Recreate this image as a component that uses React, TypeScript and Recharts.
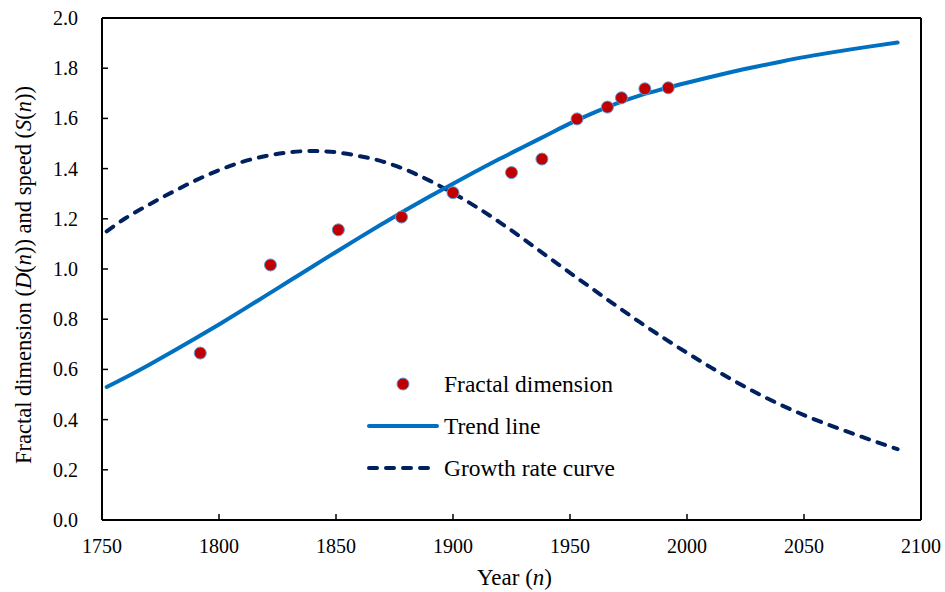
import React from 'react';
import { ComposedChart, Line, Scatter, XAxis, YAxis, ReferenceLine } from 'recharts';

// sampled years for the fitted curves
const curveYears = [
  1752, 1760, 1770, 1780, 1790, 1800, 1810, 1820, 1830, 1840,
  1850, 1860, 1870, 1880, 1890, 1900, 1910, 1920, 1930, 1940,
  1950, 1960, 1970, 1980, 1990, 2000, 2010, 2020, 2030, 2040,
  2050, 2060, 2070, 2080, 2090,
];

const trendValues = [
  0.53, 0.568, 0.618, 0.67, 0.724, 0.779, 0.836, 0.894, 0.952, 1.01,
  1.068, 1.125, 1.181, 1.236, 1.289, 1.34, 1.39, 1.439, 1.486, 1.533,
  1.58, 1.622, 1.66, 1.692, 1.718, 1.742, 1.765, 1.787, 1.807, 1.826,
  1.844, 1.86, 1.875, 1.889, 1.902,
];

const growthValues = [
  1.15, 1.202, 1.256, 1.306, 1.353, 1.394, 1.427, 1.45, 1.465, 1.47,
  1.465, 1.45, 1.428, 1.395, 1.352, 1.302, 1.247, 1.186, 1.12, 1.052,
  0.985, 0.918, 0.852, 0.787, 0.725, 0.666, 0.609, 0.555, 0.505, 0.459,
  0.418, 0.381, 0.347, 0.314, 0.282,
];

// observed fractal dimension
const obsYears = [1792, 1822, 1851, 1878, 1900, 1925, 1938, 1953, 1966, 1972, 1982, 1992];
const obsValues = [0.665, 1.016, 1.156, 1.207, 1.304, 1.384, 1.438, 1.598, 1.645, 1.682, 1.718, 1.722];

const xTicks = [1750, 1800, 1850, 1900, 1950, 2000, 2050, 2100];
const yTicks = [0, 0.2, 0.4, 0.6, 0.8, 1.0, 1.2, 1.4, 1.6, 1.8, 2.0];

const trendData = curveYears.map((year, i) => ({ year, value: trendValues[i] }));
const growthData = curveYears.map((year, i) => ({ year, value: growthValues[i] }));
const obsData = obsYears.map((year, i) => ({ year, value: obsValues[i] }));

const FONT = '"Liberation Serif", "Times New Roman", serif';
const TREND = '#0070C0';
const GROWTH = '#002060';
const DOT = '#C00000';
const DOT_EDGE = '#5B9BD5';

const YTick = (props: any) => {
  const { x, y, payload } = props;
  return (
    <g>
      <line x1={x + 24} x2={x + 30} y1={y} y2={y} stroke="#000" strokeWidth={1.5} />
      <text x={x} y={y + 7} textAnchor="end" fontSize={20} fontFamily={FONT} fill="#000">
        {Number(payload.value).toFixed(1)}
      </text>
    </g>
  );
};

const XTick = (props: any) => {
  const { x, y, payload } = props;
  return (
    <g>
      <line x1={x} x2={x} y1={y} y2={y - 6} stroke="#000" strokeWidth={1.5} />
      <text x={x} y={y + 33} textAnchor="middle" fontSize={20} fontFamily={FONT} fill="#000">
        {payload.value}
      </text>
    </g>
  );
};

const YTitle = (props: any) => {
  const { viewBox } = props;
  const cx = viewBox.x + 23;
  const cy = viewBox.y + viewBox.height / 2 + 6;
  return (
    <text
      x={cx}
      y={cy}
      transform={`rotate(-90 ${cx} ${cy})`}
      textAnchor="middle"
      dominantBaseline="central"
      fontSize={22.5}
      fontFamily={FONT}
      fill="#000"
    >
      Fractal dimension (<tspan fontStyle="italic">D</tspan>(<tspan fontStyle="italic">n</tspan>)) and speed (
      <tspan fontStyle="italic">S</tspan>(<tspan fontStyle="italic">n</tspan>))
    </text>
  );
};

const XTitle = (props: any) => {
  const { viewBox } = props;
  const cx = viewBox.x + viewBox.width / 2 + 3;
  return (
    <text x={cx} y={585} textAnchor="middle" fontSize={23} fontFamily={FONT} fill="#000">
      Year (<tspan fontStyle="italic">n</tspan>)
    </text>
  );
};

const legendRows = [
  { name: 'Fractal dimension', kind: 'dot' },
  { name: 'Trend line', kind: 'solid' },
  { name: 'Growth rate curve', kind: 'dash' },
];

const ChartLegend = () => (
  <div style={{ position: 'absolute', left: 367, top: 363, fontFamily: FONT, fontSize: 23.5, color: '#000' }}>
    {legendRows.map((row) => (
      <div key={row.name} style={{ display: 'flex', alignItems: 'center', height: 42 }}>
        <svg width={77} height={20}>
          {row.kind === 'dot' && (
            <circle cx={36} cy={10} r={6} fill={DOT} stroke={DOT_EDGE} strokeWidth={1} />
          )}
          {row.kind === 'solid' && (
            <line x1={2} x2={70} y1={10} y2={10} stroke={TREND} strokeWidth={4} strokeLinecap="round" />
          )}
          {row.kind === 'dash' && (
            <line x1={2} x2={70} y1={10} y2={10} stroke={GROWTH} strokeWidth={4} strokeDasharray="8 9" strokeLinecap="round" />
          )}
        </svg>
        <span style={{ lineHeight: '24px', whiteSpace: 'nowrap' }}>{row.name}</span>
      </div>
    ))}
  </div>
);

export default function App() {
  return (
    <div style={{ position: 'absolute', left: 0, top: 0, width: 945, height: 592, background: '#fff' }}>
      <ComposedChart width={945} height={592} margin={{ top: 18, right: 24, bottom: 0, left: 0 }}>
        <XAxis
          type="number"
          dataKey="year"
          domain={[1750, 2100]}
          ticks={xTicks}
          allowDataOverflow
          height={72}
          tickLine={false}
          tickSize={0}
          tickMargin={0}
          tick={<XTick />}
          axisLine={{ stroke: '#000', strokeWidth: 2 }}
          label={<XTitle />}
        />
        <YAxis
          type="number"
          dataKey="value"
          domain={[0, 2]}
          ticks={yTicks}
          width={102}
          tickLine={false}
          tickSize={0}
          tickMargin={24}
          tick={<YTick />}
          axisLine={{ stroke: '#000', strokeWidth: 2 }}
          label={<YTitle />}
        />
        <ReferenceLine y={2} stroke="#000" strokeWidth={2} />
        <ReferenceLine x={2100} stroke="#000" strokeWidth={2} />
        <Line
          data={growthData}
          dataKey="value"
          name="Growth rate curve"
          type="monotone"
          stroke={GROWTH}
          strokeWidth={4}
          strokeDasharray="8 9"
          strokeLinecap="round"
          dot={false}
          activeDot={false}
          isAnimationActive={false}
        />
        <Line
          data={trendData}
          dataKey="value"
          name="Trend line"
          type="monotone"
          stroke={TREND}
          strokeWidth={4}
          strokeLinecap="round"
          dot={false}
          activeDot={false}
          isAnimationActive={false}
        />
        <Scatter
          data={obsData}
          dataKey="value"
          name="Fractal dimension"
          fill={DOT}
          isAnimationActive={false}
          shape={(p: any) => <circle cx={p.cx} cy={p.cy} r={6} fill={DOT} stroke={DOT_EDGE} strokeWidth={1} />}
        />
      </ComposedChart>
      <ChartLegend />
    </div>
  );
}
